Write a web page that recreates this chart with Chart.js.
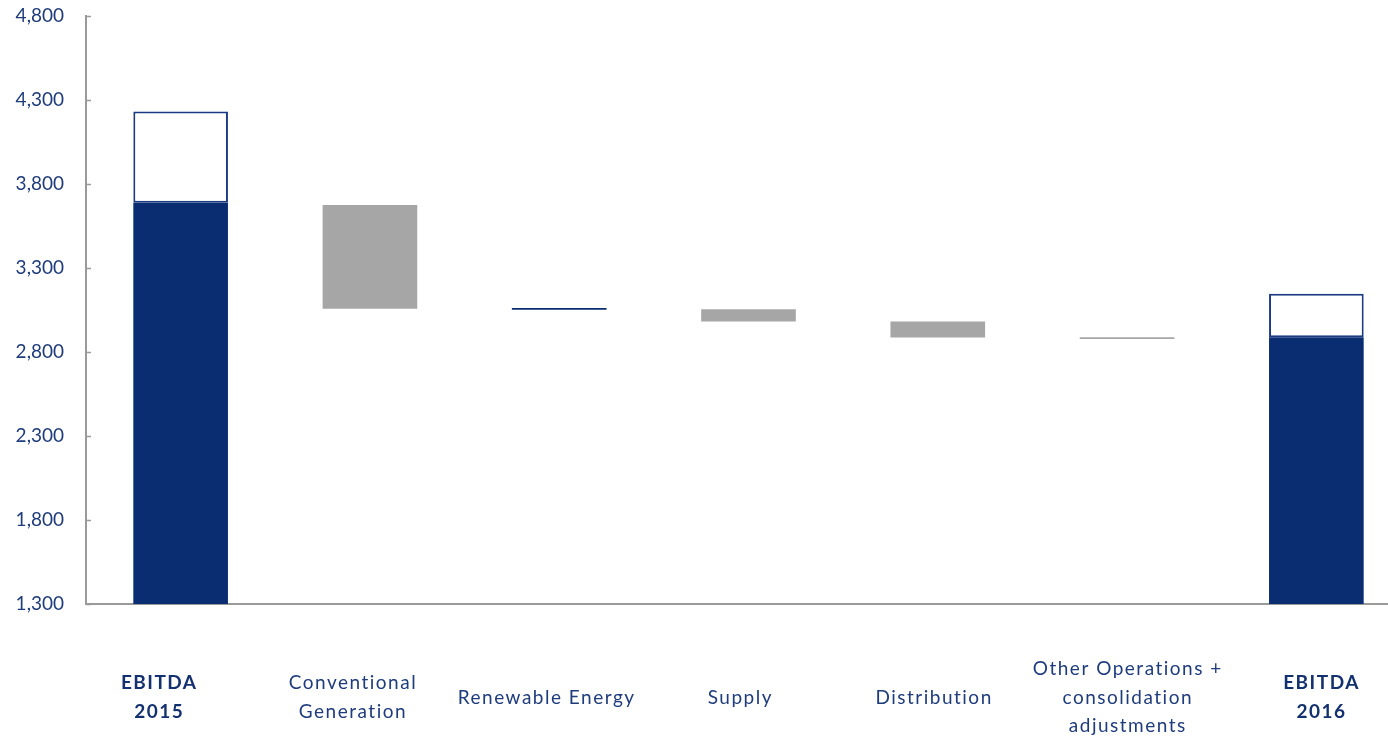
<!DOCTYPE html>
<html lang="en">
<head>
  <meta charset="UTF-8">
  <title>EBITDA bridge 2015 - 2016</title>
  <style>
    body {
      margin: 0;
      padding: 0;
      background: #fff;
      overflow: hidden;
    }

    .wrap {
      position: relative;
      width: 1411px;
      height: 737px;
    }
  </style>
</head>
<body>
  <div class="wrap">
    <canvas id="bridge"></canvas>
  </div>

  <script src="https://cdn.jsdelivr.net/npm/chart.js"></script>
  <script>
    // categories along the x axis
    const categories = [
      ['EBITDA', '2015'],
      ['Conventional', 'Generation'],
      'Renewable Energy',
      'Supply',
      'Distribution',
      ['Other Operations +', 'consolidation', 'adjustments'],
      ['EBITDA', '2016']
    ];

    // y axis
    const yMin = 1300;
    const yMax = 4800;
    const yStep = 500;

    // EBITDA columns: solid part and outlined top part
    const solidTop = [3689, null, null, null, null, null, 2888];
    const outlineTop = [4232, null, null, null, null, null, 3146];

    // bridge steps, low and high end of each floating bar
    const stepLow = [null, 3057, 3052, 2981, 2886, 2877, null];
    const stepHigh = [null, 3675, 3062, 3055, 2981, 2888, null];
    const stepUp = [false, false, true, false, false, false, false];

    const navy = '#0a2d72';
    const grey = '#a6a6a6';
    const textBlue = '#1f3c7c';
    const fontFamily = 'Lato, "Open Sans", sans-serif';

    const solidData = solidTop.map(v => v === null ? null : [yMin, v]);
    const outlineData = outlineTop.map((v, i) => v === null ? null : [solidTop[i], v]);
    const stepData = stepLow.map((v, i) => v === null ? null : [v, stepHigh[i]]);

    const isTotal = i => i === 0 || i === categories.length - 1;

    // small inward tick marks on the y axis + letter spacing on the category labels
    const axisExtras = {
      id: 'axisExtras',
      beforeDraw(chart) {
        const xs = chart.scales.xLabels;
        if (!xs._spaced) {
          const orig = xs.drawLabels.bind(xs);
          xs.drawLabels = function (area) {
            const c = chart.ctx;
            c.save();
            c.letterSpacing = '1.5px';
            orig(area);
            c.restore();
          };
          xs._spaced = true;
        }
      },
      afterDraw(chart) {
        const ys = chart.scales.y;
        const c = chart.ctx;
        const left = chart.chartArea.left;
        c.save();
        c.strokeStyle = '#9a9a9a';
        c.lineWidth = 1.5;
        ys.ticks.forEach((t, i) => {
          const py = Math.round(ys.getPixelForTick(i)) + 0.5;
          c.beginPath();
          c.moveTo(left, py);
          c.lineTo(left + 5, py);
          c.stroke();
        });
        c.restore();
      }
    };

    const ctx = document.getElementById('bridge').getContext('2d');
    new Chart(ctx, {
      type: 'bar',
      data: {
        labels: categories,
        datasets: [
          {
            label: 'EBITDA',
            data: solidData,
            backgroundColor: navy,
            borderWidth: 0,
            grouped: false
          },
          {
            label: 'EBITDA top',
            data: outlineData,
            backgroundColor: '#ffffff',
            borderColor: '#1a3b82',
            borderWidth: 2,
            borderSkipped: false,
            grouped: false
          },
          {
            label: 'Change',
            data: stepData,
            backgroundColor: stepUp.map(u => u ? navy : grey),
            borderWidth: 0,
            grouped: false
          }
        ]
      },
      options: {
        responsive: true,
        maintainAspectRatio: false,
        animation: false,
        layout: {
          padding: { top: 16, right: 0, bottom: 0, left: 0 }
        },
        datasets: {
          bar: {
            categoryPercentage: 1.0,
            barPercentage: 0.5
          }
        },
        plugins: {
          legend: { display: false },
          tooltip: { enabled: false }
        },
        scales: {
          x: {
            weight: 0,
            grid: { display: false, drawTicks: false },
            border: { display: true, color: '#9a9a9a', width: 2 },
            ticks: { display: false },
            afterFit(scale) {
              scale.height = 0;
              scale.paddingLeft = 0;
              scale.paddingRight = 0;
            }
          },
          // label row: the source spreads its labels a little wider than the columns
          xLabels: {
            type: 'linear',
            position: 'bottom',
            weight: 1,
            offset: false,
            min: -0.378,
            max: 6.462,
            grid: { display: false, drawTicks: false, offset: false },
            border: { display: false },
            afterBuildTicks(scale) {
              scale.ticks = categories.map((c, i) => ({ value: i }));
            },
            afterFit(scale) {
              scale.height = 133;
              scale.paddingLeft = 0;
              scale.paddingRight = 0;
            },
            ticks: {
              padding: 65,
              maxRotation: 0,
              autoSkip: false,
              crossAlign: 'center',
              callback: v => categories[v],
              color: c => isTotal(c.index) ? '#13306f' : textBlue,
              font: c => ({
                family: fontFamily,
                size: 19,
                lineHeight: 1.5,
                weight: isTotal(c.index) ? 'bold' : 'normal'
              })
            }
          },
          y: {
            min: yMin,
            max: yMax,
            grid: { display: false, drawTicks: false },
            border: { display: true, color: '#9a9a9a', width: 2 },
            afterFit(scale) {
              scale.width = 86;
              scale.paddingTop = 0;
              scale.paddingBottom = 0;
            },
            ticks: {
              stepSize: yStep,
              padding: 22,
              color: textBlue,
              font: { family: fontFamily, size: 19 },
              callback: v => v.toLocaleString('en-US')
            }
          }
        }
      },
      plugins: [axisExtras]
    });
  </script>
</body>
</html>
